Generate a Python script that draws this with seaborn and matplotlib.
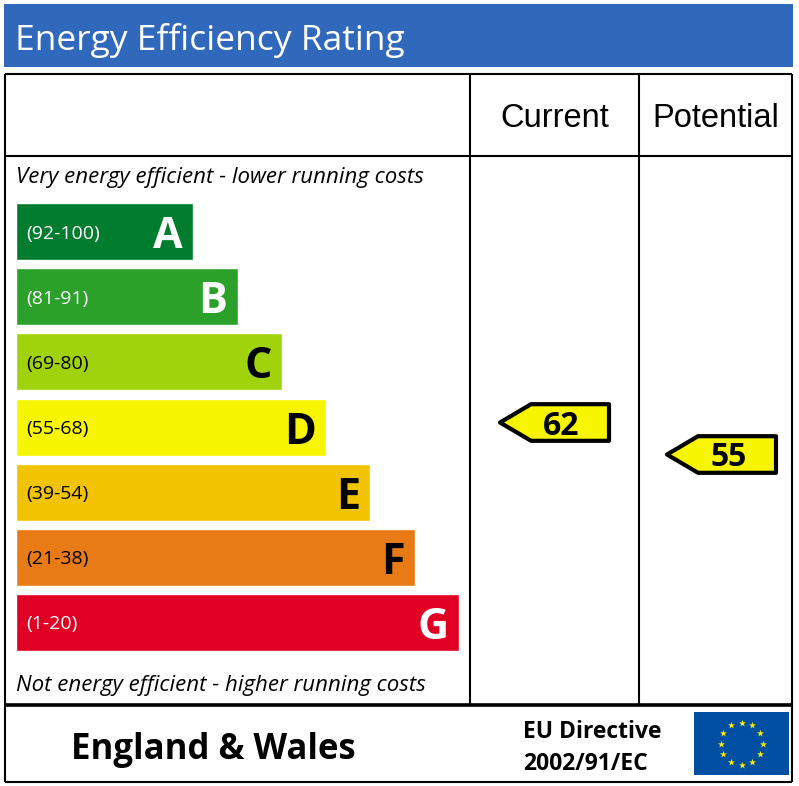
import numpy as np
import pandas as pd
import matplotlib
matplotlib.use("Agg")
import matplotlib.pyplot as plt
import seaborn as sns
from matplotlib.path import Path

# Chart values
bands = ["A", "B", "C", "D", "E", "F", "G"]
ranges = ["(92-100)", "(81-91)", "(69-80)", "(55-68)", "(39-54)", "(21-38)", "(1-20)"]
bar_widths = [40, 50, 60, 70, 80, 90, 100]
band_colors = ["#007C2E", "#2BA12A", "#A1D30C", "#F7F600", "#F2C300", "#E87B15", "#E00024"]
range_colors = ["white", "white", "black", "black", "black", "black", "white"]
letter_colors = ["white", "white", "black", "black", "black", "black", "white"]

columns = ["Current", "Potential"]
ratings = [62, 55]

W, H = 799, 786
sns.set_theme(style="white")
plt.rcParams["font.family"] = ["Open Sans", "DejaVu Sans"]

fig = plt.figure(figsize=(W / 100, H / 100), dpi=100, facecolor="white")


def px_axes(left, top, right, bottom, **kw):
    # axes placed by pixel box of the image
    return fig.add_axes([left / W, 1 - bottom / H, (right - left) / W, (bottom - top) / H], **kw)


# ----------------- frame and header -----------------
bg = px_axes(0, 0, W, H)
bg.set_xlim(0, W)
bg.set_ylim(H, 0)
bg.axis("off")

bg.fill_between([4, 793], 4, 67, color="#3068BC", lw=0)
bg.text(15, 36, "Energy Efficiency Rating", color="white", fontsize=25.5, va="center_baseline")

lw = 1.5
bg.hlines([74, 156, 782], 5, 792, color="black", lw=lw)
bg.hlines(705, 5, 792, color="black", lw=2.6)
bg.vlines([5, 792], 74, 782, color="black", lw=lw)
bg.vlines([470, 639], 74, 704, color="black", lw=lw)

bg.text(555, 115, columns[0], family="Liberation Sans", color="black", fontsize=23.5, ha="center", va="center_baseline")
bg.text(716, 115, columns[1], family="Liberation Sans", color="black", fontsize=23.5, ha="center", va="center_baseline")

bg.text(16, 175, "Very energy efficient - lower running costs", style="italic", color="black", fontsize=16, va="center_baseline")
bg.text(16, 683, "Not energy efficient - higher running costs", style="italic", color="black", fontsize=16, va="center_baseline")

bg.text(213, 745, "England & Wales", weight="bold", color="black", fontsize=25, ha="center", va="center_baseline")
bg.text(523, 729, "EU Directive", weight="bold", color="black", fontsize=16.5, va="center_baseline")
bg.text(523, 761, "2002/91/EC", weight="bold", color="black", fontsize=16.5, va="center_baseline")

# ----------------- rating bars -----------------
df = pd.DataFrame({"band": bands, "width": bar_widths})
ax = px_axes(16, 199, 459, 655)
ax.patch.set_alpha(0)
sns.barplot(data=df, x="width", y="band", hue="band", palette=band_colors, saturation=1,
            width=0.875, legend=False, orient="h", ax=ax)
ax.set_xlim(0, 100)
ax.set_ylim(6.5, -0.5)
ax.axis("off")

for i, (letter, rng, value) in enumerate(zip(bands, ranges, bar_widths)):
    ax.annotate(rng, (0, i), xytext=(7.5, 0), textcoords="offset points", color=range_colors[i],
                fontsize=14, ha="left", va="center_baseline")
    ax.annotate(letter, (value, i), xytext=(-7.5, 0), textcoords="offset points", color=letter_colors[i],
                fontsize=31, weight="bold", ha="right", va="center_baseline")

# ----------------- current / potential pointers -----------------
arrow = Path([(-1, 0), (-0.43, 0.336), (1, 0.336), (1, -0.336), (-0.43, -0.336), (-1, 0)], closed=True)
df2 = pd.DataFrame({"column": [0, 1], "rating": ratings})
ax2 = px_axes(470, 157, 792, 703)
ax2.patch.set_alpha(0)
sns.scatterplot(data=df2, x="column", y="rating", marker=arrow, s=6159, color="#F7F600",
                edgecolor="black", linewidth=3.0, legend=False, ax=ax2, clip_on=False)
ax2.set_xlim((470 - 553.5) / 167, (792 - 553.5) / 167)
ax2.set_ylim(62 - (703 - 422.3) / 4.49, 62 + (422.3 - 157) / 4.49)
ax2.axis("off")
for i, r in enumerate(ratings):
    ax2.annotate(str(r), (i, r), xytext=(5.5, 0), textcoords="offset points", color="black",
                 fontsize=23, weight="bold", ha="center", va="center_baseline")

# ----------------- EU flag -----------------
flag = px_axes(694, 712, 789, 775)
flag.set_facecolor("#004FA2")
flag.set_xlim(-47.5, 47.5)
flag.set_ylim(-31.5, 31.5)
flag.set_xticks([])
flag.set_yticks([])
for s in flag.spines.values():
    s.set_visible(False)
star_angles = np.deg2rad(np.arange(0, 360, 30))
flag.scatter(21 * np.cos(star_angles), 21 * np.sin(star_angles), marker="*", s=28, color="#FFED00", lw=0)

fig.savefig("out.png", dpi=100, facecolor="white")
